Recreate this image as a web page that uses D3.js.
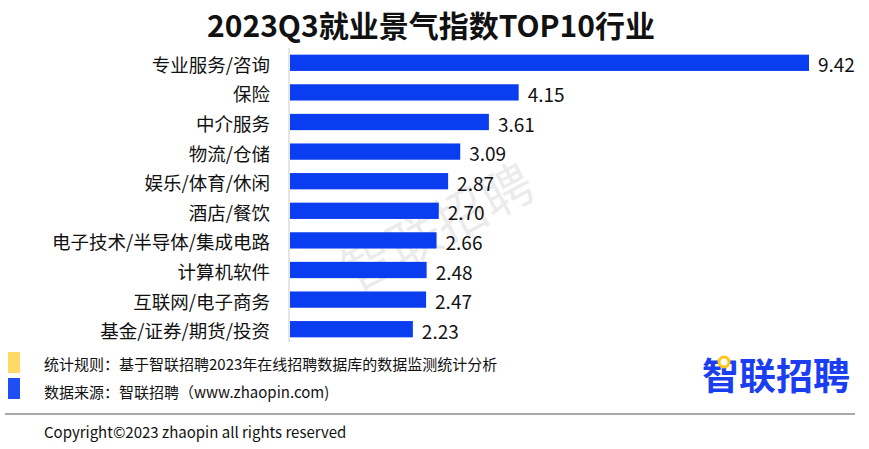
<!DOCTYPE html>
<html lang="zh">
<head>
<meta charset="UTF-8">
<script src="https://d3js.org/d3.v7.min.js"></script>
<title>2023Q3就业景气指数TOP10行业</title>
<style>
    body { margin: 0; background: #fff; }
    text { font-family: "Noto Sans CJK SC", "Noto Sans", sans-serif; }
</style>
</head>
<body>
<script>
    // ---- data ----
    const industries = ["专业服务/咨询", "保险", "中介服务", "物流/仓储", "娱乐/体育/休闲",
        "酒店/餐饮", "电子技术/半导体/集成电路", "计算机软件", "互联网/电子商务", "基金/证券/期货/投资"];
    const indexValues = [9.42, 4.15, 3.61, 3.09, 2.87, 2.70, 2.66, 2.48, 2.47, 2.23];
    const legendNotes = ["统计规则：基于智联招聘2023年在线招聘数据库的数据监测统计分析",
        "数据来源：智联招聘（www.zhaopin.com)"];

    const width = 869, height = 449;
    const svg = d3.select("body").append("svg")
        .attr("width", width)
        .attr("height", height);

    // title
    svg.append("text")
        .attr("x", 431).attr("y", 37)
        .attr("text-anchor", "middle")
        .style("font-size", "30px")
        .style("font-weight", "bold")
        .attr("fill", "#111")
        .text("2023Q3就业景气指数TOP10行业");

    // watermark
    svg.append("text")
        .attr("transform", "translate(436,224) rotate(-28)")
        .attr("text-anchor", "middle")
        .attr("dominant-baseline", "central")
        .style("font-size", "52px")
        .attr("fill", "#000")
        .attr("fill-opacity", 0.08)
        .text("智联招聘");

    // scales
    const x = d3.scaleLinear().domain([0, 9.42]).range([290, 809]);
    const y = d3.scaleBand().domain(industries).range([48, 344])
        .paddingInner(0.45).paddingOuter(0.225);

    const rows = industries.map((d, i) => ({ name: d, value: indexValues[i] }));

    svg.selectAll(".bar")
        .data(rows)
        .enter().append("rect")
        .attr("class", "bar")
        .attr("x", x(0))
        .attr("y", d => y(d.name))
        .attr("width", d => x(d.value) - x(0))
        .attr("height", y.bandwidth())
        .attr("fill", "#0a3cf0");

    // y axis line + labels
    svg.append("line")
        .attr("x1", 289).attr("x2", 289)
        .attr("y1", 48).attr("y2", 342)
        .attr("stroke", "#d4d4d4")
        .attr("stroke-width", 1.2);

    svg.selectAll(".cat")
        .data(rows)
        .enter().append("text")
        .attr("class", "cat")
        .attr("x", 270)
        .attr("y", d => y(d.name) + y.bandwidth() / 2 + 1)
        .attr("text-anchor", "end")
        .attr("dominant-baseline", "central")
        .style("font-size", "18.5px")
        .attr("fill", "#111")
        .text(d => d.name);

    svg.selectAll(".val")
        .data(rows)
        .enter().append("text")
        .attr("class", "val")
        .attr("x", d => x(d.value) + 9)
        .attr("y", d => y(d.name) + y.bandwidth() / 2 + 1)
        .attr("dominant-baseline", "central")
        .style("font-size", "19px")
        .attr("fill", "#111")
        .text(d => d.value.toFixed(2));

    // legend notes
    const legendColors = ["#ffd966", "#1f4ef5"];
    legendNotes.forEach((t, i) => {
        svg.append("rect")
            .attr("x", 8).attr("y", 352 + i * 26)
            .attr("width", 12).attr("height", 21)
            .attr("fill", legendColors[i]);
        svg.append("text")
            .attr("x", 44).attr("y", 363 + i * 28)
            .attr("dominant-baseline", "central")
            .style("font-size", "15px")
            .attr("fill", "#111")
            .text(t);
    });

    // logo
    svg.append("text")
        .attr("x", 702).attr("y", 390)
        .style("font-size", "37px")
        .style("font-weight", "bold")
        .attr("fill", "#1a3ef0")
        .text("智联招聘");
    svg.append("circle")
        .attr("cx", 724).attr("cy", 362).attr("r", 5)
        .attr("fill", "#fff")
        .attr("stroke", "#ffc51a")
        .attr("stroke-width", 3);

    // footer
    svg.append("line")
        .attr("x1", 5).attr("x2", 855)
        .attr("y1", 414).attr("y2", 414)
        .attr("stroke", "#8c8c8c")
        .attr("stroke-width", 1.5);

    svg.append("text")
        .attr("x", 44).attr("y", 431)
        .attr("dominant-baseline", "central")
        .style("font-size", "15px")
        .attr("fill", "#111")
        .text("Copyright©2023 zhaopin all rights reserved");
</script>
</body>
</html>
